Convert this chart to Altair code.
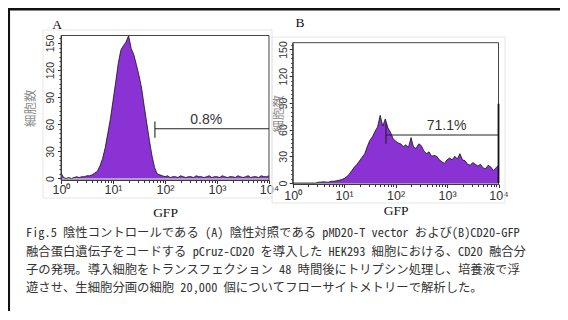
import json
import altair as alt
import pandas as pd

# ---------------- data ----------------
log_bins = [round(0.05 * i, 2) for i in range(81)]          # log10(GFP) bin centres 0..4
gfp_values = [10 ** b for b in log_bins]

counts_a = [6, 1, 0, 1, 0, 1, 2, 1, 2, 2,
            3, 3, 4, 6, 8, 14, 22, 34, 50, 66,
            86, 106, 127, 142, 147, 151, 158, 144, 137, 126,
            114, 100, 80, 61, 42, 25, 12, 5, 4, 3,
            2, 3, 1, 2, 2, 1, 3, 2, 1, 2,
            2, 1, 3, 2, 2, 1, 2, 3, 1, 2,
            2, 1, 3, 2, 1, 2, 2, 1, 3, 2,
            1, 2, 3, 1, 2, 2, 1, 3, 2, 2, 3]

counts_b = [0, 0, 0, 0, 0, 0, 0, 0, 0, 0,
            1, 1, 1.5, 1, 1, 2, 2, 2.5, 3, 4,
            5, 7, 10, 14, 18, 21, 25, 29, 33, 41,
            48, 52, 58, 63, 76, 64, 72, 62, 57, 50,
            47, 45, 44, 41, 43, 40, 51, 40, 39, 44,
            42, 36, 33, 35, 30, 31, 30, 26, 24, 22,
            26, 28, 26, 30, 27, 33, 26, 25, 21, 20,
            23, 21, 19, 21, 17, 16, 20, 18, 14, 17, 20]

y_major = [0, 30, 60, 90, 120, 150]
y_minor = [v for v in range(0, 160, 5) if v % 30]
x_major = [1, 10, 100, 1000, 10000]
x_minor = [m * 10 ** k for k in range(4) for m in range(2, 10)]
x_major_labels = ["10⁰", "10¹", "10²", "10³", "10⁴"]

gate_a = {"x": 64, "y": 55, "tick_lo": 45, "tick_hi": 63, "label": "0.8%", "label_x": 620}
gate_b = {"x": 65, "y": 54, "tick_lo": 44, "tick_hi": 67, "end_hi": 89,
          "label": "71.1%", "label_x": 977}

caption_lines = [
    "Fig.5 陰性コントロールである (A) 陰性対照である pMD20-T vector および(B)CD20-GFP",
    "融合蛋白遺伝子をコードする pCruz-CD20 を導入した HEK293 細胞における、CD20 融合分",
    "子の発現。導入細胞をトランスフェクション 48 時間後にトリプシン処理し、培養液で浮",
    "遊させ、生細胞分画の細胞 20,000 個についてフローサイトメトリーで解析した。",
]

# ---------------- styling ----------------
W, H = 552, 303
PURPLE = "#8A32D4"
AXC = "#333333"
LABEL_EXPR = json.dumps(x_major_labels, ensure_ascii=False) + "[round(log(datum.value)/LN10)]"

panels = {
    "A": dict(counts=counts_a, gate=gate_a, xr=[53, 261], yd=[-1.7, 158.3], yr=[172, 27.5],
              xlab_pad=0, xtitle_pad=9, ylab_pad=2.3, ytitle_pad=8,
              letter_xy=(49, 17), img_box=(35, 264, 22, 190)),
    "B": dict(counts=counts_b, gate=gate_b, xr=[284.7, 490.5], yd=[-1.1, 157.6], yr=[176, 34.7],
              xlab_pad=2, xtitle_pad=1.5, ylab_pad=0.5, ytitle_pad=-7,
              letter_xy=(292, 15), img_box=(264, 497, 29, 195)),
}


def build_panel(name, p):
    xs = alt.Scale(type="log", domain=[1, 10000], range=p["xr"], nice=False)
    ys = alt.Scale(domain=p["yd"], range=p["yr"], nice=False, zero=False)
    xoff = -(H - p["yr"][0])
    yoff = -p["xr"][0]

    x_axis = alt.Axis(orient="bottom", offset=xoff, values=x_major, labelExpr=LABEL_EXPR,
                      title="GFP", titleFont="Liberation Serif", titleFontSize=13.5,
                      titleFontWeight="normal", titleColor="#111", titlePadding=p["xtitle_pad"],
                      labelFont="Liberation Sans", labelFontSize=12.5, labelColor=AXC,
                      labelPadding=p["xlab_pad"], tickSize=3.5, tickColor=AXC,
                      domainColor=AXC, grid=False, labelFlush=False, labelOverlap=False)
    y_axis = alt.Axis(orient="left", offset=yoff, values=y_major, labelAngle=270,
                      labelAlign="center", labelBaseline="bottom", labelFont="Liberation Sans",
                      labelFontSize=10.5, labelColor=AXC, labelPadding=p["ylab_pad"],
                      tickSize=3.5, tickColor=AXC, domainColor=AXC, grid=False,
                      title="細胞数", titleFont="Noto Sans CJK JP", titleFontSize=12.5,
                      titleFontWeight="normal", titleColor="#8c8c8c",
                      titlePadding=p["ytitle_pad"], labelOverlap=False)
    x_axis_minor = alt.Axis(orient="bottom", offset=xoff, values=x_minor, labels=False,
                            domain=False, tickSize=2.5, tickColor=AXC, title=None, grid=False)
    y_axis_minor = alt.Axis(orient="left", offset=yoff, values=y_minor, labels=False,
                            domain=False, tickSize=2, tickColor=AXC, title=None, grid=False)

    df = pd.DataFrame({"gfp": gfp_values, "count": p["counts"]})
    g = p["gate"]

    x0, x1, y0, y1 = p["img_box"]
    img_box = alt.Chart(pd.DataFrame({"k": [0]})).mark_rect(
        fillOpacity=0, stroke="#e6e6e6", strokeWidth=1).encode(
        x=alt.value(x0), x2=alt.value(x1), y=alt.value(y0), y2=alt.value(y1))

    area = alt.Chart(df).mark_area(color=PURPLE, interpolate="linear").encode(
        x=alt.X("gfp:Q", scale=xs, axis=x_axis),
        y=alt.Y("count:Q", scale=ys, axis=y_axis))
    outline = alt.Chart(df).mark_line(color="#111", strokeWidth=0.8).encode(
        x=alt.X("gfp:Q", scale=xs, axis=x_axis_minor),
        y=alt.Y("count:Q", scale=ys, axis=y_axis_minor))

    box_df = pd.DataFrame({"x1": [1], "x2": [10000], "y1": [p["yd"][0]], "y2": [p["yd"][1]]})
    box = alt.Chart(box_df).mark_rect(fillOpacity=0, stroke="#444", strokeWidth=1).encode(
        x=alt.X("x1:Q", scale=xs, axis=None), x2="x2:Q",
        y=alt.Y("y1:Q", scale=ys, axis=None), y2="y2:Q")

    hline = alt.Chart(pd.DataFrame({"x1": [g["x"]], "x2": [10000], "y": [g["y"]]})).mark_rule(
        color="#222", strokeWidth=1.1).encode(
        x=alt.X("x1:Q", scale=xs, axis=None), x2="x2:Q",
        y=alt.Y("y:Q", scale=ys, axis=None))
    vtick = alt.Chart(pd.DataFrame({"x": [g["x"]], "y1": [g["tick_lo"]], "y2": [g["tick_hi"]]})).mark_rule(
        color="#222", strokeWidth=1.1).encode(
        x=alt.X("x:Q", scale=xs, axis=None),
        y=alt.Y("y1:Q", scale=ys, axis=None), y2="y2:Q")
    label = alt.Chart(pd.DataFrame({"x": [g["label_x"]], "y": [g["y"]], "t": [g["label"]]})).mark_text(
        font="Liberation Sans", fontSize=14, color="#333", baseline="alphabetic", dy=-5).encode(
        x=alt.X("x:Q", scale=xs, axis=None), y=alt.Y("y:Q", scale=ys, axis=None), text="t:N")

    layers = [img_box, area, outline, box, hline, vtick, label]
    if "end_hi" in g:
        endline = alt.Chart(pd.DataFrame({"x": [10000], "y1": [0], "y2": [g["end_hi"]]})).mark_rule(
            color="#111", strokeWidth=1.8).encode(
            x=alt.X("x:Q", scale=xs, axis=None),
            y=alt.Y("y1:Q", scale=ys, axis=None), y2="y2:Q")
        layers.append(endline)

    lx, ly = p["letter_xy"]
    letter = alt.Chart(pd.DataFrame({"k": [0]})).mark_text(
        font="Liberation Serif", fontSize=13.5, color="#111").encode(
        x=alt.value(lx), y=alt.value(ly), text=alt.value(name))
    layers.append(letter)
    return layers


layers = []
for nm, pp in panels.items():
    layers += build_panel(nm, pp)

cap_df = pd.DataFrame({"row": list(range(len(caption_lines))), "text": caption_lines})
caption = alt.Chart(cap_df).mark_text(
    font="Noto Sans Mono CJK JP, Noto Sans CJK JP", fontSize=12.35, color="#333",
    align="left", baseline="middle").encode(
    x=alt.value(18),
    y=alt.Y("row:Q", scale=alt.Scale(domain=[0, 3], range=[225.3, 280.3]), axis=None),
    text="text:N")

frame_top = alt.Chart(pd.DataFrame({"k": [0]})).mark_rule(color="#111", strokeWidth=2.5).encode(
    x=alt.value(0), x2=alt.value(W), y=alt.value(1.2))
frame_left = alt.Chart(pd.DataFrame({"k": [0]})).mark_rule(color="#111", strokeWidth=2.5).encode(
    x=alt.value(0.8), y=alt.value(0), y2=alt.value(H))

chart = alt.layer(*layers, caption, frame_top, frame_left).resolve_scale(
    x="independent", y="independent").resolve_axis(
    x="independent", y="independent").properties(
    width=W, height=H, padding=0, autosize="none").configure_view(stroke=None)

chart.save("out.html", embed_options={"renderer": "svg", "actions": False})
